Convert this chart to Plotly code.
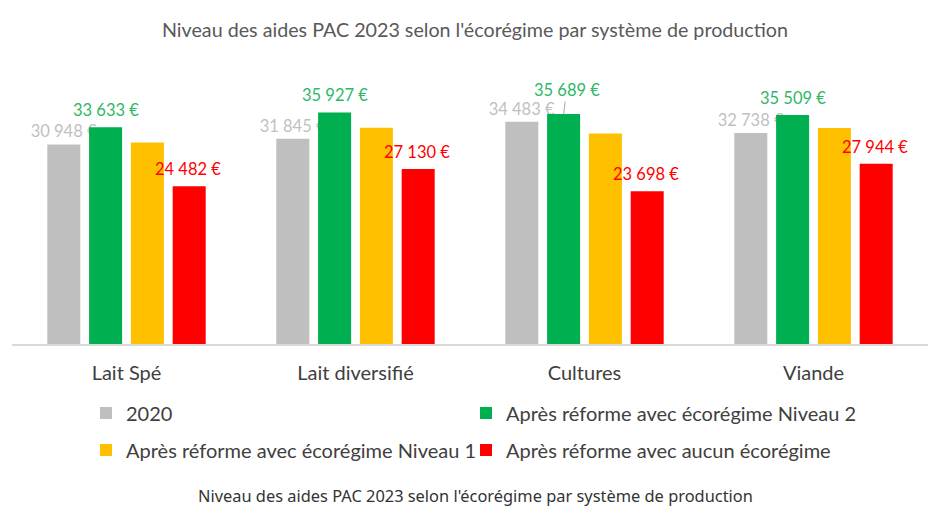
import plotly.graph_objects as go

categories = ['Lait Spé', 'Lait diversifié', 'Cultures', 'Viande']
series_names = [
    '2020',
    'Après réforme avec écorégime Niveau 2',
    'Après réforme avec écorégime Niveau 1',
    'Après réforme avec aucun écorégime',
]
aides_2020 = [30948, 31845, 34483, 32738]
aides_niveau2 = [33633, 35927, 35689, 35509]
aides_niveau1 = [31250, 33550, 32650, 33500]  # no labels on the picture, estimated
aides_aucun = [24482, 27130, 23698, 27944]

colors = ['#BFBFBF', '#00B050', '#FFC000', '#FF0000']
label_colors = ['#BFBFBF', '#2DB865', None, '#FF0000']
all_values = [aides_2020, aides_niveau2, aides_niveau1, aides_aucun]

W, H = 941, 517
OFF = 8  # page body margin
TOP, BOTTOM = 70 - OFF, 344 - OFF  # plot area in figure px
LEFT, PLOT_W = 12 - OFF, 916
LABEL_FONT = 16.5


def euro(v):
    return f"{v:,}".replace(',', ' ') + ' €'


def paper_y(py):
    return (BOTTOM - (py - OFF)) / (BOTTOM - TOP)


def paper_x(px):
    return (px - OFF - LEFT) / PLOT_W


legend_ids = ['legend', 'legend2', 'legend3', 'legend4']

fig = go.Figure()
for i, (name, values) in enumerate(zip(series_names, all_values)):
    bar = go.Bar(
        x=categories, y=values, name=name,
        marker_color=colors[i], marker_line_width=0,
        legend=legend_ids[i], showlegend=True,
        hovertemplate='%{x}<br>%{y:,} €<extra>' + name + '</extra>',
    )
    if i == 0:
        # grey labels sit behind the green bars, so they are bar texts
        bar.update(
            text=[euro(v) for v in values],
            textposition='outside', constraintext='none', cliponaxis=False,
            textfont=dict(family='Lato', size=LABEL_FONT, color=label_colors[0]),
        )
    fig.add_trace(bar)

# data labels for green and red (orange series has none)
slot = 41.7
offsets = {1: -0.5 * slot, 3: 1.5 * slot - 1}
annotations = []
for i, dx in offsets.items():
    for cat, v in zip(categories, all_values[i]):
        ann = dict(
            x=cat, y=v, xref='x', yref='y', text=euro(v),
            font=dict(family='Lato', size=LABEL_FONT, color=label_colors[i]),
            xshift=dx, yshift=5, yanchor='bottom', showarrow=False,
        )
        if i == 1 and cat == 'Cultures':
            # label pushed up with a leader line
            ann.update(showarrow=True, arrowhead=0, arrowwidth=1, arrowcolor='#A6A6A6',
                       ax=3, ay=-24, yshift=0, yanchor='middle', standoff=0)
        annotations.append(ann)

annotations.append(dict(
    text="Niveau des aides PAC 2023 selon l'écorégime par système de production",
    xref='paper', yref='paper', x=paper_x(475), y=paper_y(495),
    xanchor='center', yanchor='middle', showarrow=False,
    font=dict(family='Noto Sans', size=16.4, color='#333333'),
))

legend_style = dict(
    xref='container', yref='container', xanchor='left', yanchor='middle',
    font=dict(family='Lato', size=20, color='#404040'),
    bgcolor='rgba(0,0,0,0)', itemwidth=30,
)
# one legend per entry: 2 columns x 2 rows
legend_pos = [(78, 405), (458, 405), (78, 442), (458, 442)]
legends = {
    lid: dict(legend_style, x=px / W, y=(H - py) / H)
    for lid, (px, py) in zip(legend_ids, legend_pos)
}

fig.update_layout(
    width=W, height=H, showlegend=True,
    paper_bgcolor='white', plot_bgcolor='white',
    title=dict(
        text="Niveau des aides PAC 2023 selon l'écorégime par système de production",
        x=(475 - OFF) / W, xanchor='center', y=1 - (30 - OFF) / H, yanchor='middle',
        font=dict(family='Lato', size=19.7, color='#595959'),
    ),
    margin=dict(l=LEFT, r=W - LEFT - PLOT_W, t=TOP, b=H - BOTTOM, autoexpand=False),
    barmode='group', bargap=0.27, bargroupgap=0.21,
    xaxis=dict(
        showline=True, linecolor='#D9D9D9', linewidth=1.5, ticks='',
        tickfont=dict(family='Lato', size=20, color='#404040'),
        ticklabelstandoff=10,
    ),
    yaxis=dict(range=[0, 42500], visible=False, showgrid=False),
    annotations=annotations,
    hoverlabel=dict(font_family='Lato'),
    **legends,
)

fig.write_html('out.html')
